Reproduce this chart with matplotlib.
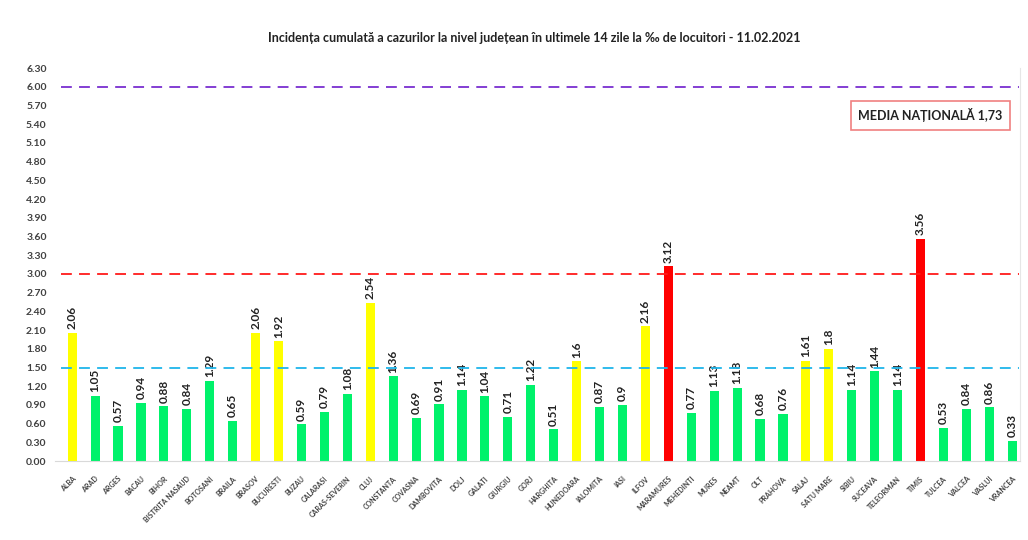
import matplotlib
matplotlib.use("Agg")
import matplotlib.pyplot as plt
import numpy as np

plt.rcParams['font.family'] = ['Lato', 'DejaVu Sans']

judete = ["ALBA", "ARAD", "ARGES", "BACAU", "BIHOR", "BISTRITA NASAUD", "BOTOSANI",
          "BRAILA", "BRASOV", "BUCURESTI", "BUZAU", "CALARASI", "CARAS-SEVERIN", "CLUJ",
          "CONSTANTA", "COVASNA", "DAMBOVITA", "DOLJ", "GALATI", "GIURGIU", "GORJ",
          "HARGHITA", "HUNEDOARA", "IALOMITA", "IASI", "ILFOV", "MARAMURES", "MEHEDINTI",
          "MURES", "NEAMT", "OLT", "PRAHOVA", "SALAJ", "SATU MARE", "SIBIU", "SUCEAVA",
          "TELEORMAN", "TIMIS", "TULCEA", "VALCEA", "VASLUI", "VRANCEA"]
incidenta = [2.06, 1.05, 0.57, 0.94, 0.88, 0.84, 1.29, 0.65, 2.06, 1.92, 0.59, 0.79,
             1.08, 2.54, 1.36, 0.69, 0.91, 1.14, 1.04, 0.71, 1.22, 0.51, 1.6, 0.87,
             0.9, 2.16, 3.12, 0.77, 1.13, 1.18, 0.68, 0.76, 1.61, 1.8, 1.14, 1.44,
             1.14, 3.56, 0.53, 0.84, 0.86, 0.33]
etichete = ["2.06", "1.05", "0.57", "0.94", "0.88", "0.84", "1.29", "0.65", "2.06", "1.92",
            "0.59", "0.79", "1.08", "2.54", "1.36", "0.69", "0.91", "1.14", "1.04", "0.71",
            "1.22", "0.51", "1.6", "0.87", "0.9", "2.16", "3.12", "0.77", "1.13", "1.18",
            "0.68", "0.76", "1.61", "1.8", "1.14", "1.44", "1.14", "3.56", "0.53", "0.84",
            "0.86", "0.33"]
praguri = [1.5, 3.0, 6.0]
culori_prag = ["#1fb5ea", "#ff1a1a", "#7a2fd0"]
media = "1,73"


def culoare(v):
    if v > 3:
        return "#ff0000"
    if v > 1.5:
        return "#ffff00"
    return "#00f26b"


fig = plt.figure(figsize=(10.28, 5.4), dpi=100)
ax = fig.add_axes([0.0535, 0.146, 0.939, 0.728])

x = np.arange(len(judete))
ax.bar(x, incidenta, width=0.4, color=[culoare(v) for v in incidenta], zorder=2)

for xi, v, e in zip(x, incidenta, etichete):
    ax.text(xi, v + 0.06, e, rotation=90, ha="center", va="bottom", fontsize=8.5,
            color="#222222", fontweight="bold")

for p, c in zip(praguri, culori_prag):
    ax.hlines(p, -0.5, 41.3, colors=c, linestyles=(0, (6, 4)), linewidth=1.3, zorder=3)

ax.set_xlim(-0.75, 41.35)
ax.set_ylim(0, 6.3)
ax.set_yticks(np.arange(0, 6.31, 0.3))
ax.set_yticklabels(["%.2f" % t for t in np.arange(0, 6.31, 0.3)], fontsize=7.5,
                   color="#404040", fontweight="bold")
ax.set_xticks(x)
ax.set_xticklabels(judete, rotation=45, ha="right", rotation_mode="anchor",
                   fontsize=5, fontweight="bold", color="#404040")
ax.tick_params(length=0, pad=6)
ax.tick_params(axis="x", pad=10)

for s in ["top", "left"]:
    ax.spines[s].set_visible(False)
ax.spines["bottom"].set_color("#d9d9d9")
ax.spines["right"].set_color("#e6e6e6")

fig.text(0.52, 0.93, "Incidența cumulată a cazurilor la nivel județean în ultimele 14 zile la ‰ de locuitori - 11.02.2021",
         ha="center", va="center", fontsize=9, fontweight="bold", color="#222222")

ax.text(0.907, 0.88, "MEDIA NAȚIONALĂ " + media, transform=ax.transAxes, ha="center",
        va="center", fontsize=9, fontweight="bold", color="#222222",
        bbox=dict(boxstyle="square,pad=0.6", facecolor="white", edgecolor="#f08080", linewidth=1.2))

plt.savefig("out.png", dpi=100)
